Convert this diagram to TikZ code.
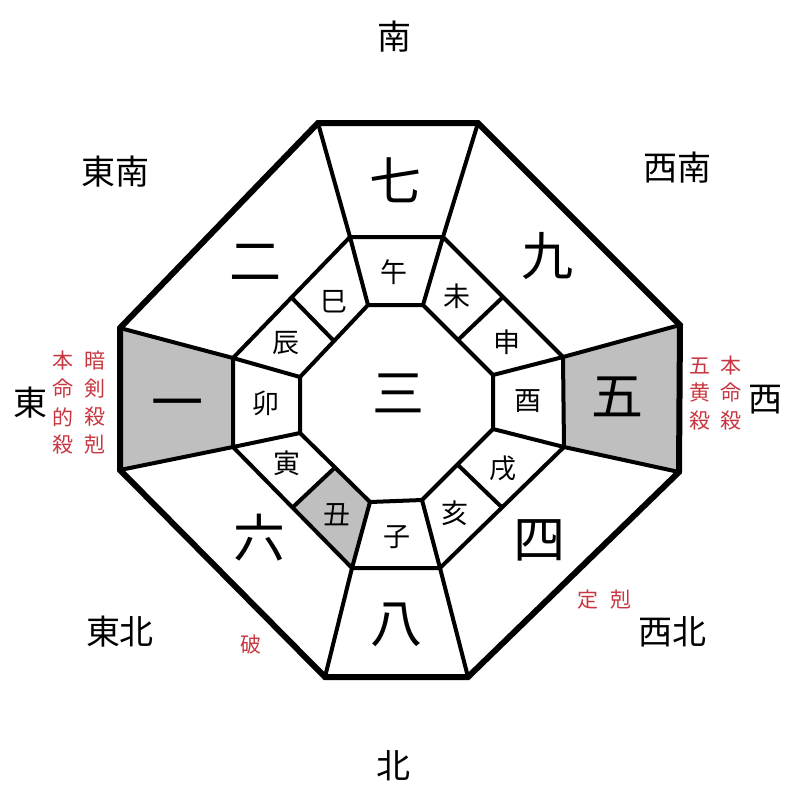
\documentclass[tikz,border=0pt]{standalone}
\usepackage{fontspec}
\newfontfamily\cjk{Noto Sans CJK JP}
\usetikzlibrary{calc}
\definecolor{kred}{RGB}{200,55,65}
\tikzset{
  num/.style={inner sep=0pt,font=\cjk\fontsize{26}{26}\selectfont},
  eto/.style={inner sep=0pt,font=\cjk\fontsize{13.5}{14}\selectfont},
  hoi/.style={inner sep=0pt,font=\cjk\fontsize{17}{17}\selectfont},
  kyo/.style={inner sep=0pt,font=\cjk\fontsize{10.5}{11}\selectfont,text=kred},
  ring/.style={line width=2pt},
  rim/.style={line width=3pt},
  cell/.style={fill=gray!50}
}
\begin{document}
\begin{tikzpicture}[x=0.5pt,y=-0.5pt]
\useasboundingbox (0,0) rectangle (800,800);
% octagon corners (outer, middle, inner)
\foreach \n/\p in {O1/{318,123},O2/{478,123},O3/{680,325},O4/{679,472},O5/{468,677},O6/{325,677},O7/{120,470},O8/{120,328},
  M1/{350,237},M2/{443,237},M3/{563,357},M4/{564,447},M5/{440,568},M6/{352,568},M7/{233,447},M8/{233,358},
  I1/{368,305},I2/{423,305},I3/{493,375},I4/{493,429},I5/{422,500},I6/{370,502},I7/{300,433},I8/{300,377}}
  \coordinate (\n) at (\p);
% grey cells
\fill[cell] (O8)--(O7)--(M7)--(M8)--cycle;
\fill[cell] (O3)--(O4)--(M4)--(M3)--cycle;
\fill[cell] (I6)--($(I6)!0.5!(I7)$)--($(M6)!0.5!(M7)$)--(M6)--cycle;
% rings and spokes
\draw[ring] (M1)--(M2)--(M3)--(M4)--(M5)--(M6)--(M7)--(M8)--cycle;
\draw[ring] (I1)--(I2)--(I3)--(I4)--(I5)--(I6)--(I7)--(I8)--cycle;
\foreach \k in {1,...,8} \draw[ring] (O\k)--(M\k)--(I\k);
\foreach \a/\b in {8/1,2/3,4/5,6/7} \draw[ring] ($(M\a)!0.5!(M\b)$)--($(I\a)!0.5!(I\b)$);
\draw[rim] (O1)--(O2)--(O3)--(O4)--(O5)--(O6)--(O7)--(O8)--cycle;
% stars
\foreach \t/\p [count=\k] in {七/{395,180},二/{255,262},九/{547,256},一/{177,410},三/{398,393},五/{617,397},六/{260,538},四/{539,540},八/{397,625}}
  \node[num] (n\k) at (\p) {\t};
% branches
\foreach \t/\p [count=\k] in {午/{394,272},巳/{334,302},未/{457,296},辰/{286,343},申/{507,342},卯/{266,403},
  酉/{528,401},寅/{287,463},戌/{503,468},丑/{337,515},亥/{455,513},子/{397,537}}
  \node[eto] (e\k) at (\p) {\t};
% directions
\foreach \t/\p [count=\k] in {南/{394,37},東南/{116,172},西南/{677,168},東/{30,403},西/{765,400},東北/{120,632},西北/{672,632},北/{393,766}}
  \node[hoi] (d\k) at (\p) {\t};
% red marks
\foreach \t/\p [count=\k] in {本/{63,361},命/{63,389},的/{63,417},殺/{63,445},暗/{95,361},剣/{95,389},殺/{95,417},剋/{95,445},
  五/{700,366},黄/{700,393},殺/{700,421},本/{731,366},命/{731,393},殺/{731,421},破/{251,644},定/{588,600},剋/{621,600}}
  \node[kyo] (r\k) at (\p) {\t};
\end{tikzpicture}
\end{document}
